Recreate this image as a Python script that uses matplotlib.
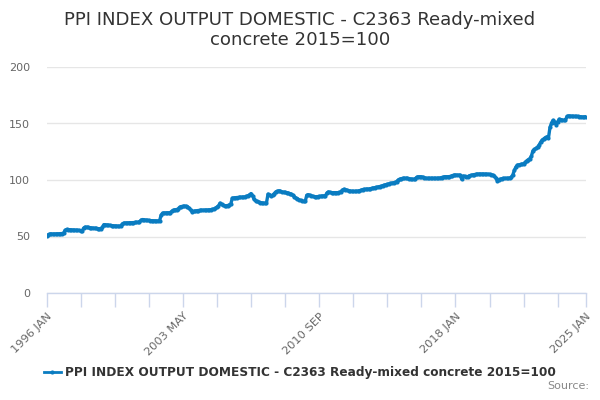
import matplotlib
matplotlib.use("Agg")
import matplotlib.pyplot as plt
from matplotlib.lines import Line2D
import pandas as pd

# monthly index values, 1996 JAN .. 2025 JAN
start_month = "1996-01-01"
ppi_values = [
    50.2, 51.5, 52.3, 52.3, 52.2, 52.2, 52.3, 52.4, 52.4, 52.5, 52.6, 52.8,   # 1996
    55.5, 56.2, 56.1, 56.0, 55.9, 55.8, 55.7, 55.6, 55.5, 55.4, 55.2, 55.0,   # 1997
    57.5, 58.4, 58.2, 58.0, 57.8, 57.6, 57.5, 57.3, 57.2, 57.0, 56.9, 56.8,   # 1998
    58.0, 60.5, 60.4, 60.2, 60.0, 59.8, 59.7, 59.5, 59.4, 59.3, 59.2, 59.0,   # 1999
    59.0, 61.2, 62.0, 62.0, 62.0, 62.1, 62.2, 62.2, 62.3, 62.4, 62.5, 62.6,   # 2000
    62.8, 64.5, 65.0, 64.8, 64.5, 64.3, 64.2, 64.0, 64.0, 63.9, 63.9, 63.8,   # 2001
    63.8, 64.0, 69.0, 70.8, 70.8, 70.9, 71.0, 71.0, 71.2, 72.5, 73.5, 73.6,   # 2002
    73.8, 74.5, 76.0, 76.5, 76.7, 76.8, 76.8, 76.5, 75.0, 73.5, 72.0, 72.3,   # 2003
    72.5, 72.8, 73.0, 73.2, 73.3, 73.3, 73.4, 73.4, 73.5, 73.6, 73.7, 74.0,   # 2004
    74.3, 75.0, 76.0, 77.0, 79.5, 78.5, 77.5, 77.3, 77.2, 77.4, 78.0, 79.0,   # 2005
    84.0, 84.2, 84.3, 84.5, 84.6, 84.7, 84.8, 84.9, 85.0, 85.5, 86.0, 86.8,   # 2006
    88.0, 86.0, 83.0, 81.5, 81.0, 80.5, 80.0, 79.8, 79.5, 79.5, 79.8, 87.5,   # 2007
    87.0, 85.5, 86.5, 88.0, 89.5, 90.0, 90.5, 90.0, 89.5, 89.2, 89.0, 88.8,   # 2008
    88.5, 88.0, 87.5, 86.5, 85.2, 84.0, 83.5, 82.5, 82.0, 81.5, 81.0, 81.0,   # 2009
    86.5, 87.0, 86.5, 86.0, 85.5, 85.2, 85.2, 85.3, 85.5, 85.6, 85.8, 86.0,   # 2010
    85.8, 88.5, 89.5, 89.0, 88.8, 88.8, 88.8, 88.8, 88.8, 89.0, 89.5, 91.0,   # 2011
    91.8, 91.5, 91.0, 90.5, 90.2, 90.0, 89.9, 89.9, 90.0, 90.2, 90.5, 91.0,   # 2012
    91.5, 91.8, 91.8, 91.9, 92.0, 92.3, 92.6, 92.9, 93.2, 93.5, 93.8, 94.1,   # 2013
    94.5, 95.0, 95.5, 95.8, 96.2, 96.6, 97.0, 97.3, 97.6, 97.8, 98.5, 100.0,  # 2014
    100.8, 101.2, 101.5, 101.5, 101.5, 101.5, 101.3, 101.0, 100.6, 100.6, 101.0, 102.5,  # 2015
    102.8, 102.9, 102.8, 102.5, 102.0, 101.6, 101.5, 101.5, 101.5, 101.5, 101.5, 101.5,  # 2016
    101.5, 101.6, 101.8, 102.2, 102.7, 102.9, 102.9, 102.9, 103.0, 103.3, 103.8, 104.4,  # 2017
    104.4, 104.4, 104.3, 104.2, 100.8, 103.5, 103.2, 102.6, 103.0, 103.8, 104.2, 104.5,  # 2018
    104.8, 105.0, 105.2, 105.3, 105.3, 105.3, 105.3, 105.2, 105.2, 105.1, 105.0, 104.8,  # 2019
    104.4, 103.5, 102.0, 99.4, 100.0, 100.8, 101.2, 101.5, 101.5, 101.5, 101.5, 101.6,   # 2020
    102.5, 104.5, 108.5, 111.5, 113.2, 113.5, 113.8, 114.0, 114.3, 115.5, 117.0, 118.0,  # 2021
    119.0, 121.0, 126.0, 127.0, 128.0, 129.2, 131.0, 133.5, 135.4, 136.5, 137.5, 138.3,  # 2022
    137.0, 146.5, 150.5, 152.8, 151.0, 149.0, 151.5, 153.8, 153.5, 153.0, 152.8, 153.0,  # 2023
    156.2, 156.8, 156.5, 156.5, 156.3, 156.3, 156.2, 156.2, 156.0, 156.0, 155.8, 155.8,  # 2024
    156.0,                                                                               # 2025
]
series_name = "PPI INDEX OUTPUT DOMESTIC - C2363 Ready-mixed concrete 2015=100"
title_text = "PPI INDEX OUTPUT DOMESTIC - C2363 Ready-mixed\nconcrete 2015=100"
y_ticks = [0, 50, 100, 150, 200]

months = pd.date_range(start=start_month, periods=len(ppi_values), freq="MS")
x = list(range(len(ppi_values)))

line_color = "#0a7cc1"
grid_color = "#e6e6e6"
axis_color = "#ccd6eb"
text_color = "#333333"
label_color = "#666666"

fig = plt.figure(figsize=(6, 4), dpi=100)
ax = fig.add_axes([0.0775, 0.2675, 0.8985, 0.565])

ax.plot(x, ppi_values, color=line_color, lw=2.4, marker="o", ms=3,
        markeredgewidth=0, zorder=3)

ax.set_ylim(0, 200)
ax.set_xlim(0, len(ppi_values) - 1)
ax.set_yticks(y_ticks)
ax.set_yticklabels([str(v) for v in y_ticks], color=label_color, fontsize=8)
ax.yaxis.grid(True, color=grid_color, lw=1)
ax.set_axisbelow(True)
ax.tick_params(axis="y", length=0, pad=12)

# x ticks every 22 months, labels on every 4th, plus the last month
tick_pos = list(range(0, len(ppi_values) - 1, 22)) + [len(ppi_values) - 1]
tick_lab = []
for i, p in enumerate(tick_pos):
    if p % 88 == 0 or p == len(ppi_values) - 1:
        tick_lab.append(months[p].strftime("%Y %b").upper())
    else:
        tick_lab.append("")
ax.set_xticks(tick_pos)
ax.set_xticklabels(tick_lab, rotation=45, ha="right", va="top",
                   rotation_mode="anchor", color=label_color, fontsize=8.2)
ax.tick_params(axis="x", length=10, color=axis_color, width=1, pad=3)

for s in ["top", "right", "left"]:
    ax.spines[s].set_visible(False)
ax.spines["bottom"].set_color(axis_color)
ax.spines["bottom"].set_linewidth(1)

fig.text(0.5, 0.972, title_text, ha="center", va="top", fontsize=13.1,
         color=text_color, linespacing=1.15)

handle = Line2D([0], [0], color=line_color, lw=2, marker="o", ms=3,
                markeredgewidth=0)
leg = fig.legend([handle], [series_name], loc="center",
                 bbox_to_anchor=(0.5, 0.068), frameon=False,
                 handlelength=1.4, handletextpad=0.4,
                 prop={"size": 8.7, "weight": "bold"})
for t in leg.get_texts():
    t.set_color(text_color)

fig.text(0.982, 0.022, "Source:", ha="right", va="bottom", fontsize=8,
         color="#888888")

fig.savefig("out.png", dpi=100)
